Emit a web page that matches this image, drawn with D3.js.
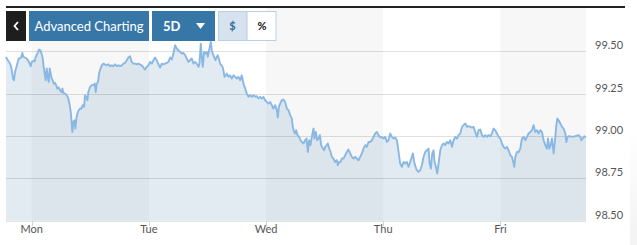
<!DOCTYPE html>
<html lang="en">
<head>
    <meta charset="UTF-8">
    <title>5D chart</title>
    <script src="https://cdn.jsdelivr.net/npm/d3@7"></script>
    <style>
        body { margin: 0; background: #fff; }
        svg { display: block; font-family: Lato, "Open Sans", sans-serif; }
    </style>
</head>
<body>
<svg id="chart" width="637" height="245"></svg>
<script>
    // day labels sit at 0, 24, 48 ... hours from Monday 00:00
    var days = ["Mon", "Tue", "Wed", "Thu", "Fri"];
    var yTicks = [98.5, 98.75, 99.0, 99.25, 99.5];
    var buttons = ["Advanced Charting", "5D", "$", "%"];

    // [hours from Monday 00:00, price]
    var series = [
        [-5.27, 99.467], [-4.99, 99.451], [-4.65, 99.437], [-4.45, 99.427], [-4.24, 99.412], [-4.04, 99.378],
        [-3.83, 99.339], [-3.63, 99.329], [-3.42, 99.378], [-3.22, 99.398], [-2.95, 99.427], [-2.67, 99.457],
        [-2.40, 99.457], [-2.13, 99.467], [-1.92, 99.490], [-1.72, 99.467], [-1.37, 99.463], [-1.03, 99.457],
        [-0.69, 99.443], [-0.42, 99.427], [-0.21, 99.412], [0.00, 99.437], [0.33, 99.443], [0.61, 99.441],
        [0.81, 99.467], [1.15, 99.486], [1.50, 99.510], [1.77, 99.506], [2.04, 99.482], [2.25, 99.457],
        [2.45, 99.408], [2.66, 99.368], [2.86, 99.329], [3.07, 99.398], [3.27, 99.349], [3.48, 99.319],
        [3.68, 99.398], [3.89, 99.368], [4.09, 99.339], [4.30, 99.329], [4.50, 99.309], [4.78, 99.313],
        [4.98, 99.300], [5.25, 99.280], [5.53, 99.286], [5.80, 99.270], [6.07, 99.260], [6.28, 99.280],
        [6.48, 99.254], [6.82, 99.250], [7.17, 99.241], [7.51, 99.221], [7.78, 99.182], [7.99, 99.142],
        [8.19, 99.074], [8.33, 99.024], [8.53, 99.083], [8.74, 99.093], [8.94, 99.044], [9.15, 99.103],
        [9.35, 99.133], [9.63, 99.152], [9.90, 99.162], [10.17, 99.162], [10.45, 99.182], [10.72, 99.172],
        [10.92, 99.241], [11.13, 99.231], [11.40, 99.211], [11.61, 99.260], [11.95, 99.290], [12.29, 99.300],
        [12.63, 99.300], [12.91, 99.309], [13.11, 99.260], [13.32, 99.309], [13.59, 99.319], [13.79, 99.368],
        [14.00, 99.390], [14.34, 99.417], [14.68, 99.427], [15.02, 99.421], [15.37, 99.417], [15.71, 99.423],
        [16.05, 99.412], [16.39, 99.417], [16.73, 99.412], [17.07, 99.423], [17.41, 99.412], [17.75, 99.417],
        [18.10, 99.412], [18.44, 99.417], [18.78, 99.427], [19.12, 99.431], [19.46, 99.447], [19.80, 99.463],
        [20.15, 99.471], [20.49, 99.437], [20.83, 99.427], [21.17, 99.427], [21.51, 99.423], [21.85, 99.427],
        [22.20, 99.421], [22.54, 99.417], [22.88, 99.404], [23.22, 99.392], [23.56, 99.408], [23.90, 99.417],
        [24.25, 99.437], [24.59, 99.427], [24.93, 99.447], [25.27, 99.463], [25.61, 99.447], [25.95, 99.423],
        [26.30, 99.404], [26.64, 99.427], [26.98, 99.423], [27.32, 99.427], [27.66, 99.431], [28.00, 99.437],
        [28.34, 99.463], [28.69, 99.451], [29.03, 99.486], [29.37, 99.535], [29.71, 99.516], [30.05, 99.506],
        [30.39, 99.496], [30.74, 99.486], [31.08, 99.490], [31.42, 99.476], [31.76, 99.457], [32.10, 99.437],
        [32.44, 99.447], [32.79, 99.457], [33.13, 99.427], [33.47, 99.437], [33.81, 99.427], [34.15, 99.408],
        [34.36, 99.427], [34.63, 99.545], [34.84, 99.467], [35.04, 99.408], [35.31, 99.496], [35.59, 99.486],
        [35.86, 99.496], [36.07, 99.467], [36.34, 99.506], [36.54, 99.535], [36.68, 99.555], [36.88, 99.506],
        [37.09, 99.486], [37.36, 99.467], [37.64, 99.447], [37.91, 99.467], [38.12, 99.476], [38.32, 99.457],
        [38.59, 99.427], [38.86, 99.417], [39.07, 99.408], [39.27, 99.388], [39.48, 99.349], [39.75, 99.358],
        [39.96, 99.368], [40.30, 99.349], [40.64, 99.358], [40.98, 99.339], [41.32, 99.358], [41.67, 99.349],
        [42.01, 99.339], [42.35, 99.349], [42.69, 99.329], [43.03, 99.358], [43.37, 99.309], [43.72, 99.280],
        [44.06, 99.250], [44.40, 99.231], [44.74, 99.241], [45.08, 99.231], [45.42, 99.241], [45.77, 99.231],
        [46.11, 99.235], [46.45, 99.221], [46.79, 99.231], [47.13, 99.221], [47.47, 99.231], [47.82, 99.211],
        [48.16, 99.201], [48.50, 99.191], [48.84, 99.201], [49.18, 99.182], [49.52, 99.162], [49.86, 99.182],
        [50.21, 99.152], [50.41, 99.109], [50.62, 99.172], [50.89, 99.191], [51.23, 99.211], [51.57, 99.215],
        [51.91, 99.201], [52.26, 99.162], [52.60, 99.152], [52.94, 99.123], [53.28, 99.103], [53.48, 99.054],
        [53.76, 99.024], [53.96, 99.015], [54.17, 99.034], [54.44, 99.005], [54.78, 98.995], [55.06, 98.975],
        [55.33, 98.965], [55.67, 98.956], [56.01, 98.975], [56.29, 98.985], [56.56, 98.906], [56.83, 98.975],
        [57.11, 98.946], [57.38, 98.995], [57.72, 99.044], [57.93, 98.985], [58.20, 99.024], [58.47, 98.975],
        [58.75, 98.985], [59.02, 99.005], [59.29, 98.946], [59.64, 98.926], [59.91, 98.916], [60.11, 98.936],
        [60.45, 98.946], [60.66, 98.956], [60.93, 98.926], [61.21, 98.906], [61.48, 98.877], [61.82, 98.867],
        [62.16, 98.847], [62.50, 98.857], [62.71, 98.828], [62.98, 98.847], [63.25, 98.847], [63.53, 98.867],
        [63.87, 98.867], [64.21, 98.887], [64.55, 98.906], [64.89, 98.920], [65.24, 98.897], [65.58, 98.877],
        [65.92, 98.867], [66.26, 98.877], [66.60, 98.867], [66.94, 98.857], [67.29, 98.877], [67.63, 98.897],
        [67.97, 98.926], [68.31, 98.946], [68.65, 98.936], [68.99, 98.965], [69.34, 98.965], [69.68, 98.975],
        [70.02, 98.995], [70.36, 99.015], [70.70, 99.024], [71.04, 99.005], [71.39, 98.991], [71.73, 98.995],
        [72.07, 98.985], [72.41, 98.995], [72.75, 98.965], [73.09, 98.975], [73.43, 99.015], [73.78, 98.995],
        [74.12, 98.985], [74.46, 98.991], [74.80, 98.975], [75.01, 98.936], [75.28, 98.877], [75.48, 98.838],
        [75.83, 98.818], [76.17, 98.847], [76.51, 98.838], [76.85, 98.847], [77.19, 98.818], [77.53, 98.847],
        [77.87, 98.877], [78.08, 98.897], [78.35, 98.847], [78.63, 98.818], [78.90, 98.798], [79.24, 98.789],
        [79.58, 98.798], [79.92, 98.828], [80.27, 98.877], [80.61, 98.906], [80.95, 98.916], [81.29, 98.926],
        [81.50, 98.838], [81.77, 98.808], [82.04, 98.897], [82.32, 98.916], [82.52, 98.847], [82.80, 98.818],
        [83.07, 98.779], [83.34, 98.838], [83.69, 98.916], [84.03, 98.946], [84.37, 98.956], [84.71, 98.946],
        [85.05, 98.965], [85.39, 98.956], [85.74, 98.975], [86.08, 98.936], [86.42, 98.975], [86.76, 98.995],
        [87.10, 98.985], [87.44, 99.005], [87.79, 99.015], [88.13, 99.054], [88.47, 99.064], [88.81, 99.074],
        [89.15, 99.054], [89.49, 99.058], [89.84, 99.054], [90.18, 99.050], [90.52, 99.054], [90.86, 99.024],
        [91.20, 98.995], [91.54, 99.034], [91.89, 99.038], [92.23, 99.005], [92.57, 98.995], [92.91, 99.005],
        [93.25, 98.995], [93.59, 99.005], [93.93, 98.999], [94.27, 99.015], [94.61, 99.044], [94.96, 99.034],
        [95.30, 99.015], [95.64, 98.995], [95.98, 98.985], [96.32, 98.956], [96.66, 98.936], [97.01, 98.926],
        [97.35, 98.936], [97.69, 98.916], [98.03, 98.887], [98.37, 98.877], [98.64, 98.847], [98.85, 98.818],
        [99.06, 98.877], [99.40, 98.906], [99.74, 98.906], [100.08, 98.926], [100.42, 98.985], [100.76, 98.995],
        [101.11, 98.975], [101.45, 98.995], [101.79, 99.015], [102.13, 99.024], [102.47, 99.034], [102.81, 99.064],
        [103.16, 99.024], [103.50, 99.034], [103.84, 99.015], [104.18, 99.034], [104.52, 99.024], [104.86, 98.975],
        [105.20, 98.946], [105.55, 98.926], [105.75, 98.985], [106.03, 98.926], [106.30, 98.946], [106.57, 98.985],
        [106.91, 98.897], [107.25, 98.995], [107.46, 99.064], [107.67, 99.103], [107.93, 99.093], [108.28, 99.074],
        [108.62, 99.054], [108.96, 99.044], [109.30, 99.015], [109.51, 98.965], [109.78, 98.995], [110.12, 98.999],
        [110.67, 98.995], [111.35, 98.999], [112.03, 99.005], [112.37, 98.995], [112.58, 98.975], [112.85, 98.985],
        [113.20, 98.999], [113.54, 98.991]
    ];

    var svg = d3.select("#chart");
    // plot box (note: "top" is reserved on window, so use other names)
    var plotLeft = 6, plotRight = 586, plotTop = 8, plotBottom = 220.8;

    var x = d3.scaleLinear()
        .domain([series[0][0], series[series.length - 1][0]])
        .range([plotLeft, plotRight]);
    var y = d3.scaleLinear()
        .domain([98.5, 99.755])
        .range([plotBottom, plotTop]);

    //day stripes (Mon, Wed, Fri shaded)
    days.forEach(function (d, i) {
        if (i % 2 !== 0) return;
        var x0 = x(i * 24);
        var x1 = Math.min(x((i + 1) * 24), plotRight);
        svg.append("rect")
            .attr("x", x0).attr("y", plotTop)
            .attr("width", x1 - x0).attr("height", plotBottom - plotTop)
            .attr("fill", "#f7f7f7");
    });

    //area + line
    var area = d3.area()
        .x(function (d) { return x(d[0]); })
        .y0(plotBottom)
        .y1(function (d) { return y(d[1]); });
    var line = d3.line()
        .x(function (d) { return x(d[0]); })
        .y(function (d) { return y(d[1]); });

    svg.append("path")
        .datum(series)
        .attr("d", area)
        .attr("fill", "rgb(135,175,199)")
        .attr("fill-opacity", 0.25);

    //grid
    svg.selectAll(".grid")
        .data(yTicks)
        .enter().append("line")
        .attr("x1", plotLeft).attr("x2", plotRight)
        .attr("y1", function (d) { return Math.round(y(d)) + 0.5; })
        .attr("y2", function (d) { return Math.round(y(d)) + 0.5; })
        .attr("stroke", "#000")
        .attr("stroke-opacity", 0.12);

    svg.append("path")
        .datum(series)
        .attr("d", line)
        .attr("fill", "none")
        .attr("stroke", "#8ab8e4")
        .attr("stroke-width", 1.9)
        .attr("stroke-linejoin", "round");

    //y labels
    svg.selectAll(".ylab")
        .data(yTicks)
        .enter().append("text")
        .attr("x", 595)
        .attr("y", function (d) { return y(d) - 2; })
        .attr("font-size", 11)
        .attr("fill", "#555")
        .text(function (d) { return d3.format(".2f")(d); });

    //x axis
    svg.append("line")
        .attr("x1", plotLeft).attr("x2", plotRight)
        .attr("y1", 221.5).attr("y2", 221.5)
        .attr("stroke", "#dde5ea");
    days.forEach(function (d, i) {
        var tx = Math.round(x(i * 24)) + 0.5;
        svg.append("line")
            .attr("x1", tx).attr("x2", tx)
            .attr("y1", 221).attr("y2", 226)
            .attr("stroke", "#ccd6dd");
        svg.append("text")
            .attr("x", x(i * 24))
            .attr("y", 233)
            .attr("text-anchor", "middle")
            .attr("font-size", 11)
            .attr("fill", "#555")
            .text(d);
    });

    //top bar
    svg.append("rect")
        .attr("x", 6).attr("y", 6).attr("width", 619).attr("height", 2)
        .attr("fill", "#222");

    //buttons
    svg.append("rect")
        .attr("x", 6).attr("y", 11).attr("width", 20).attr("height", 30)
        .attr("fill", "#1e1e1e");
    svg.append("path")
        .attr("d", "M18,22 L14.5,26 L18,30")
        .attr("fill", "none").attr("stroke", "#fff").attr("stroke-width", 1.8);

    svg.append("rect")
        .attr("x", 29).attr("y", 11).attr("width", 120).attr("height", 30)
        .attr("fill", "#3777a8");
    svg.append("text")
        .attr("x", 89).attr("y", 30.5)
        .attr("text-anchor", "middle")
        .attr("font-size", 13)
        .attr("fill", "#fff")
        .text(buttons[0]);

    svg.append("rect")
        .attr("x", 152).attr("y", 11).attr("width", 63).attr("height", 30)
        .attr("fill", "#3777a8");
    svg.append("text")
        .attr("x", 163).attr("y", 30.5)
        .attr("font-size", 13)
        .attr("font-weight", "bold")
        .attr("fill", "#fff")
        .text(buttons[1]);
    svg.append("path")
        .attr("d", "M196,23 L205,23 L200.5,29 Z")
        .attr("fill", "#fff");

    svg.append("rect")
        .attr("x", 218.5).attr("y", 11.5).attr("width", 28.5).attr("height", 29)
        .attr("fill", "#d6e3ee").attr("stroke", "#b9d0e4");
    svg.append("rect")
        .attr("x", 247).attr("y", 11.5).attr("width", 29).attr("height", 29)
        .attr("fill", "#fff").attr("stroke", "#b9d0e4");
    svg.append("text")
        .attr("x", 232.5).attr("y", 30)
        .attr("text-anchor", "middle")
        .attr("font-size", 11).attr("font-weight", "bold")
        .attr("fill", "#2d6a9c")
        .text(buttons[2]);
    svg.append("text")
        .attr("x", 262).attr("y", 30)
        .attr("text-anchor", "middle")
        .attr("font-size", 11).attr("font-weight", "bold")
        .attr("fill", "#111")
        .text(buttons[3]);

    //faint shadow on the right edge
    var grad = svg.append("defs").append("linearGradient")
        .attr("id", "edge").attr("x1", 0).attr("x2", 0).attr("y1", 0).attr("y2", 1);
    grad.append("stop").attr("offset", 0).attr("stop-color", "#fff");
    grad.append("stop").attr("offset", 1).attr("stop-color", "#f3f3f3");
    svg.append("rect")
        .attr("x", 630).attr("y", 130).attr("width", 7).attr("height", 115)
        .attr("fill", "url(#edge)");
</script>
</body>
</html>
